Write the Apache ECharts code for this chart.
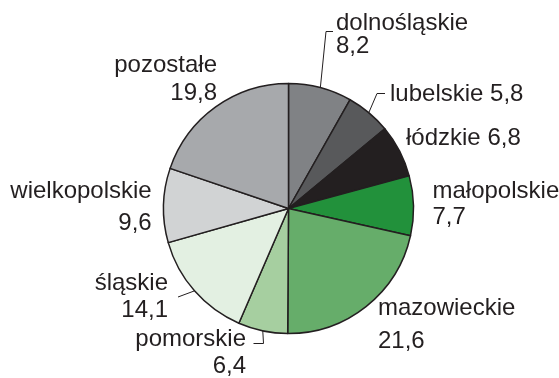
<!DOCTYPE html>
<html>
<head>
<meta charset="utf-8">
<script src="https://cdn.jsdelivr.net/npm/echarts@6/dist/echarts.min.js"></script>
<style>
  html, body { margin: 0; padding: 0; background: #ffffff; }
  #chart { width: 559px; height: 378px; }
</style>
</head>
<body>
<div id="chart"></div>
<script>
// Share of each voivodeship (%), clockwise from the top
const regions = ['dolnośląskie', 'lubelskie', 'łódzkie', 'małopolskie', 'mazowieckie',
                 'pomorskie', 'śląskie', 'wielkopolskie', 'pozostałe'];
const shares = [8.2, 5.8, 6.8, 7.7, 21.6, 6.4, 14.1, 9.6, 19.8];
const sliceColors = ['#808285', '#58595b', '#231f20', '#22913b', '#66ad6a',
                     '#a6cfa0', '#e3f0e2', '#d1d3d4', '#a7a9ac'];

// Pie geometry
const CX = 288.5, CY = 208.5, R = 125;

// Label placement: anchor x, top y, alignment, line height, one-line text, leader bends
const placement = [
  { x: 336,   y: 11.5,  align: 'left',  lh: 23, inline: false, bends: [[326, 31.5], [333, 31.5]] },
  { x: 390,   y: 83,    align: 'left',  lh: 23, inline: true,  bends: [[377, 93.5], [385, 93.5]] },
  { x: 406,   y: 126.5, align: 'left',  lh: 23, inline: true,  bends: null },
  { x: 432.5, y: 178,   align: 'left',  lh: 26, inline: false, bends: null },
  { x: 378,   y: 291.5, align: 'left',  lh: 33, inline: false, bends: null },
  { x: 246,   y: 326,   align: 'right', lh: 27, inline: false, bends: [[263.5, 343.5], [253.5, 343.5]] },
  { x: 168,   y: 269.8, align: 'right', lh: 27, inline: false, bends: [[178, 297]] },
  { x: 151.7, y: 175.5, align: 'right', lh: 32, inline: false, bends: null },
  { x: 217,   y: 51,    align: 'right', lh: 28, inline: false, bends: null }
];

const fmt = v => v.toFixed(1).replace('.', ',');
const total = shares.reduce((a, b) => a + b, 0);

// Point on the rim at the middle of slice i
function rimPoint(i) {
  let before = 0;
  for (let k = 0; k < i; k++) before += shares[k];
  const a = (before + shares[i] / 2) / total * 2 * Math.PI;
  return [CX + R * Math.sin(a), CY - R * Math.cos(a)];
}

const seriesData = regions.map((name, i) => ({
  name: name,
  value: shares[i],
  itemStyle: { color: sliceColors[i] },
  label: { lineHeight: placement[i].lh },
  labelLine: { show: !!placement[i].bends }
}));

const chart = echarts.init(document.getElementById('chart'), null, { renderer: 'canvas' });
chart.setOption({
  animation: false,
  series: [{
    type: 'pie',
    center: [CX, CY],
    radius: R,
    startAngle: 90,
    clockwise: true,
    avoidLabelOverlap: false,
    emphasis: { disabled: true },
    itemStyle: { borderColor: '#231f20', borderWidth: 1.5 },
    label: {
      show: true,
      position: 'outside',
      fontFamily: '"Liberation Sans", Arial, sans-serif',
      fontSize: 24,
      color: '#231f20',
      formatter: p => placement[p.dataIndex].inline
        ? p.name + ' ' + fmt(p.value)
        : p.name + '\n' + fmt(p.value)
    },
    labelLine: {
      show: true,
      lineStyle: { color: '#231f20', width: 1 }
    },
    labelLayout: params => {
      const pl = placement[params.dataIndex];
      const out = {
        x: pl.x,
        y: pl.y,
        align: pl.align,
        verticalAlign: 'top',
        hideOverlap: false
      };
      if (pl.bends) out.labelLinePoints = [rimPoint(params.dataIndex)].concat(pl.bends);
      return out;
    },
    data: seriesData
  }]
});
</script>
</body>
</html>
